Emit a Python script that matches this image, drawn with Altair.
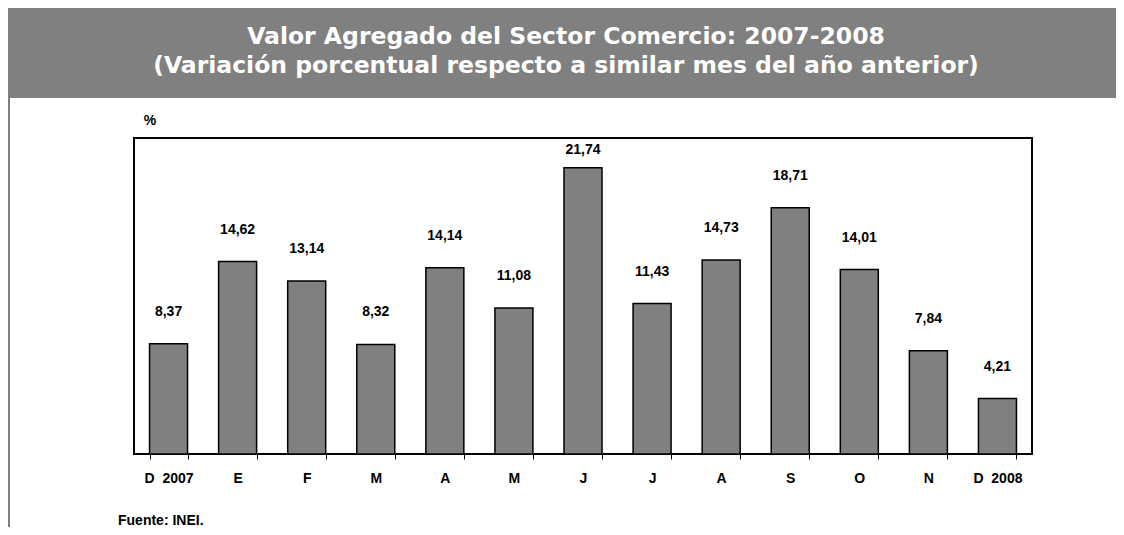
import altair as alt
import pandas as pd

months = ["D\u00a0 2007", "E", "F", "M", "A", "M ", "J", "J ", "A ", "S", "O", "N", "D\u00a0 2008"]
values = [8.37, 14.62, 13.14, 8.32, 14.14, 11.08, 21.74, 11.43, 14.73, 18.71, 14.01, 7.84, 4.21]
labels = ["8,37", "14,62", "13,14", "8,32", "14,14", "11,08", "21,74", "11,43", "14,73", "18,71", "14,01", "7,84", "4,21"]

title_lines = ["Valor Agregado del Sector Comercio: 2007-2008",
               "(Variación porcentual respecto a similar mes del año anterior)"]
source_note = "Fuente: INEI."
unit_label = "%"

df = pd.DataFrame({"mes": months, "valor": values, "etiqueta": labels})

W, H = 898, 316
PAD_L, PAD_T, PAD_R, PAD_B = 126, 130, 84, 73
FONT = "Liberation Sans"

x_enc = alt.X("mes:N", sort=months, title=None,
              scale=alt.Scale(paddingInner=0.45, paddingOuter=0.225),
              axis=alt.Axis(labelAngle=0, labelFont=FONT, labelFontWeight="bold",
                            labelFontSize=14, labelColor="black", tickBand="extent",
                            tickSize=5, tickColor="black", tickWidth=1, domain=False,
                            labelPadding=12))
y_scale = alt.Scale(domain=[0, 24], nice=False)

bars = alt.Chart(df).mark_bar(color="#808080", stroke="black", strokeWidth=1.5).encode(
    x=x_enc,
    y=alt.Y("valor:Q", scale=y_scale, axis=None),
)

text = alt.Chart(df).transform_calculate(
    pos="min(datum.valor + 2.43, 23.1)"
).mark_text(font=FONT, fontWeight="bold", fontSize=14, color="black", baseline="middle").encode(
    x=alt.X("mes:N", sort=months),
    y=alt.Y("pos:Q", scale=y_scale, axis=None),
    text="etiqueta:N",
)

one = pd.DataFrame({"k": [0]})

header = alt.Chart(one).mark_rect(color="#808080").encode(
    x=alt.value(-PAD_L), x2=alt.value(W + PAD_R),
    y=alt.value(-PAD_T), y2=alt.value(-40),
)

left_line = alt.Chart(one).mark_rule(color="#808080", strokeWidth=2).encode(
    x=alt.value(-PAD_L + 1), y=alt.value(-40), y2=alt.value(H + PAD_B),
)


def title_line(s, ypos):
    return alt.Chart(pd.DataFrame({"t": [s]})).mark_text(
        font="DejaVu Sans", fontWeight="bold", fontSize=23.5,
        color="white", baseline="middle", align="center"
    ).encode(x=alt.value(432), y=alt.value(ypos), text="t:N")


title1 = title_line(title_lines[0], -101)
title2 = title_line(title_lines[1], -72)

pct = alt.Chart(pd.DataFrame({"t": [unit_label]})).mark_text(
    font=FONT, fontWeight="bold", fontSize=14, color="black", baseline="middle", align="center"
).encode(x=alt.value(16), y=alt.value(-17), text="t:N")

src = alt.Chart(pd.DataFrame({"t": [source_note]})).mark_text(
    font=FONT, fontWeight="bold", fontSize=14, color="black", baseline="middle", align="left"
).encode(x=alt.value(-16), y=alt.value(383), text="t:N")

chart = alt.layer(header, left_line, title1, title2, bars, text, pct, src).properties(
    width=W, height=H,
    autosize=alt.AutoSizeParams(type="none"),
    padding={"left": PAD_L, "top": PAD_T, "right": PAD_R, "bottom": PAD_B},
    background="white",
).configure_view(stroke="black", strokeWidth=2)

chart.save("out.html", embed_options={"renderer": "svg", "actions": False})
